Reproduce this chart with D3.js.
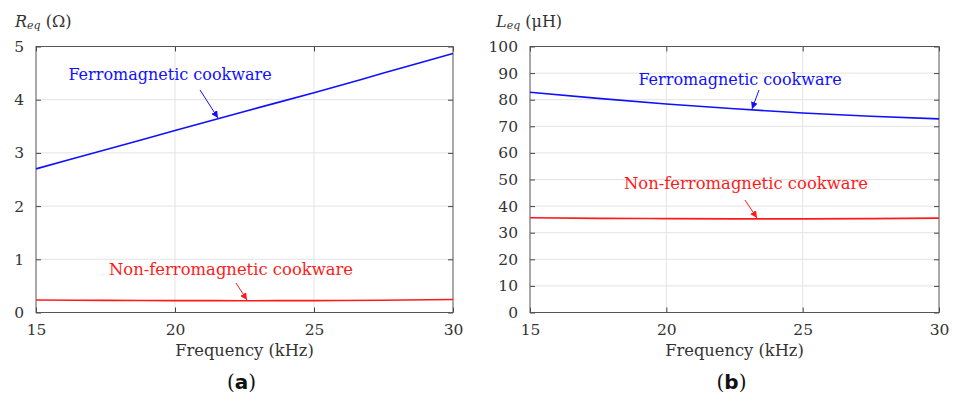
<!DOCTYPE html>
<html>
<head>
<meta charset="utf-8">
<script src="https://cdn.jsdelivr.net/npm/d3@7/dist/d3.min.js"></script>
<style>
  html, body { margin: 0; padding: 0; background: #fff; }
  svg { display: block; }
  text { font-family: "DejaVu Serif", serif; fill: #333; }
</style>
</head>
<body>
<svg id="chart" width="953" height="398"></svg>
<script>
// Frequency sweep (kHz)
const freq = [15, 17.5, 20, 22.5, 25, 27.5, 30];
const xTicks = [15, 20, 25, 30];

// Equivalent resistance (Ohm)
const reqFerro    = [2.70, 3.06, 3.42, 3.78, 4.13, 4.50, 4.87];
const reqNonFerro = [0.235, 0.228, 0.224, 0.222, 0.224, 0.231, 0.243];
const reqTicks = [0, 1, 2, 3, 4, 5];

// Equivalent inductance (uH)
const leqFerro    = [82.8, 80.5, 78.4, 76.6, 75.0, 73.8, 72.8];
const leqNonFerro = [35.6, 35.4, 35.3, 35.2, 35.2, 35.3, 35.5];
const leqTicks = [0, 10, 20, 30, 40, 50, 60, 70, 80, 90, 100];

const seriesNames = ["Ferromagnetic cookware", "Non-ferromagnetic cookware"];
const panelLabels = ["a", "b"];

const svg = d3.select("#chart");
const BLUE = "#1010ff", RED = "#ff1a1a";
const SERIF = "'DejaVu Serif', serif";

svg.append("defs").selectAll("marker")
  .data([["arrB", BLUE], ["arrR", RED]])
  .join("marker")
  .attr("id", d => d[0])
  .attr("viewBox", "0 0 10 10")
  .attr("refX", 10).attr("refY", 5)
  .attr("markerWidth", 7).attr("markerHeight", 7)
  .attr("markerUnits", "userSpaceOnUse")
  .attr("orient", "auto")
  .append("path")
  .attr("d", "M0,0 L10,5 L0,10 z")
  .attr("fill", d => d[1]);

function panel(cfg) {
  const x = d3.scaleLinear().domain([15, 30]).range([cfg.x0, cfg.x1]);
  const y = d3.scaleLinear().domain(cfg.yDomain).range([312.5, 46.5]);
  const g = svg.append("g");

  // grid
  g.append("g").selectAll("line").data(xTicks.slice(1, -1)).join("line")
    .attr("x1", d => x(d)).attr("x2", d => x(d))
    .attr("y1", y.range()[0]).attr("y2", y.range()[1])
    .attr("stroke", "#e3e3e3").attr("stroke-width", 1);
  g.append("g").selectAll("line").data(cfg.yTicks.slice(1, -1)).join("line")
    .attr("y1", d => y(d)).attr("y2", d => y(d))
    .attr("x1", cfg.x0).attr("x2", cfg.x1)
    .attr("stroke", "#e3e3e3").attr("stroke-width", 1);

  // axes (ticks inward on all four sides)
  const tickStyle = sel => {
    sel.attr("font-family", SERIF).attr("font-size", 15);
    sel.select(".domain").remove();
    sel.selectAll(".tick line").attr("stroke", "#444");
    sel.selectAll(".tick text")
      .style("font-family", SERIF)
      .style("font-size", "15.5px").attr("fill", "#333");
  };
  g.append("g").attr("transform", `translate(0,${y(cfg.yDomain[0])})`)
    .call(d3.axisBottom(x).tickValues(xTicks).tickSize(-5).tickPadding(11).tickFormat(d3.format("d")))
    .call(tickStyle);
  g.append("g").attr("transform", `translate(0,${y(cfg.yDomain[1])})`)
    .call(d3.axisTop(x).tickValues(xTicks).tickSize(-5).tickFormat(""))
    .call(tickStyle);
  g.append("g").attr("transform", `translate(${cfg.x0},0)`)
    .call(d3.axisLeft(y).tickValues(cfg.yTicks).tickSize(-5).tickPadding(12).tickFormat(d3.format("d")))
    .call(tickStyle);
  g.append("g").attr("transform", `translate(${cfg.x1},0)`)
    .call(d3.axisRight(y).tickValues(cfg.yTicks).tickSize(-5).tickFormat(""))
    .call(tickStyle);

  g.append("rect")
    .attr("x", cfg.x0).attr("y", y(cfg.yDomain[1]))
    .attr("width", cfg.x1 - cfg.x0).attr("height", y(cfg.yDomain[0]) - y(cfg.yDomain[1]))
    .attr("fill", "none").attr("stroke", "#555").attr("stroke-width", 1);

  // curves
  const line = d3.line().x((d, i) => x(freq[i])).y(d => y(d)).curve(d3.curveMonotoneX);
  g.append("path").datum(cfg.ferro).attr("d", line)
    .attr("fill", "none").attr("stroke", BLUE).attr("stroke-width", 1.6);
  g.append("path").datum(cfg.nonFerro).attr("d", line)
    .attr("fill", "none").attr("stroke", RED).attr("stroke-width", 1.6);

  // annotations
  cfg.notes.forEach(n => {
    g.append("text").attr("x", n.tx).attr("y", n.ty)
      .attr("text-anchor", "middle")
      .style("font-family", SERIF)
      .style("font-size", n.size + "px").style("fill", n.color)
      .text(n.text);
    g.append("line")
      .attr("x1", n.ax).attr("y1", n.ay).attr("x2", n.bx).attr("y2", n.by)
      .attr("stroke", n.color).attr("stroke-width", 1)
      .attr("marker-end", `url(#${n.marker})`);
  });

  // y-axis title
  const t = g.append("text").attr("x", cfg.titleX).attr("y", 27)
    .style("font-family", SERIF).style("font-size", "16px").attr("fill", "#333");
  t.append("tspan").style("font-style", "italic").text(cfg.sym);
  t.append("tspan").style("font-style", "italic").style("font-size", "11px").attr("dy", 2).text("eq");
  t.append("tspan").attr("dy", -2).text(` (${cfg.unit})`);

  // x-axis title
  g.append("text").attr("x", (cfg.x0 + cfg.x1) / 2).attr("y", 356)
    .attr("text-anchor", "middle")
    .style("font-family", SERIF).style("font-size", "16.3px").attr("fill", "#222")
    .text("Frequency (kHz)");

  // panel letter
  const c = g.append("text").attr("x", (cfg.x0 + cfg.x1) / 2 - 3).attr("y", 389)
    .attr("text-anchor", "middle")
    .style("font-family", "'DejaVu Sans', sans-serif").style("font-size", "20px").style("fill", "#111");
  c.append("tspan").style("font-family", SERIF).style("font-size", "20px").text("(");
  c.append("tspan").style("font-weight", "bold").text(cfg.letter);
  c.append("tspan").style("font-family", SERIF).style("font-size", "20px").text(")");
}

panel({
  x0: 36, x1: 453, yDomain: [0, 5], yTicks: reqTicks,
  ferro: reqFerro, nonFerro: reqNonFerro,
  sym: "R", unit: "Ω", titleX: 15, letter: panelLabels[0],
  notes: [
    { text: seriesNames[0], tx: 170, ty: 80, size: 16, color: BLUE, marker: "arrB", ax: 200, ay: 90, bx: 218, by: 118 },
    { text: seriesNames[1], tx: 231, ty: 275, size: 16.4, color: RED, marker: "arrR", ax: 236, ay: 283, bx: 247, by: 300 }
  ]
});

panel({
  x0: 530, x1: 939, yDomain: [0, 100], yTicks: leqTicks,
  ferro: leqFerro, nonFerro: leqNonFerro,
  sym: "L", unit: "μH", titleX: 496, letter: panelLabels[1],
  notes: [
    { text: seriesNames[0], tx: 740, ty: 85, size: 16, color: BLUE, marker: "arrB", ax: 759, ay: 90, bx: 752, by: 109 },
    { text: seriesNames[1], tx: 746, ty: 189, size: 16.4, color: RED, marker: "arrR", ax: 745, ay: 200, bx: 757, by: 218 }
  ]
});
</script>
</body>
</html>
